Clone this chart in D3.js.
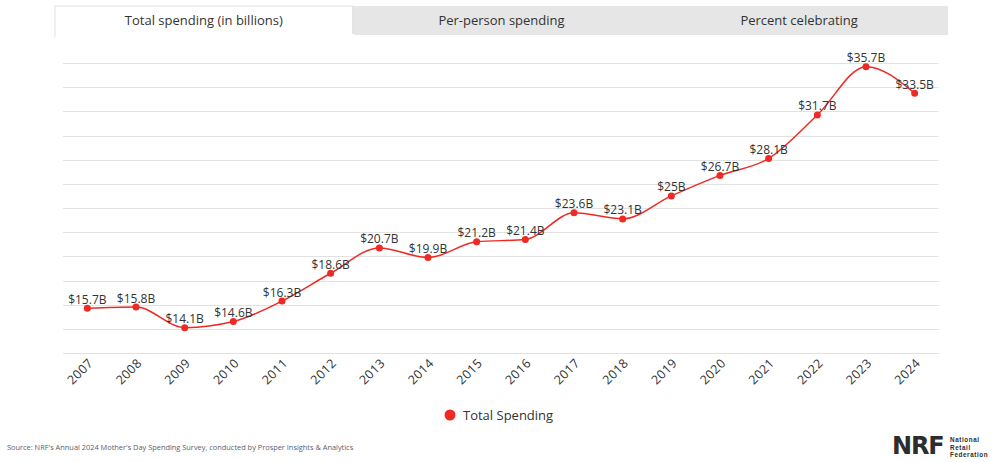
<!DOCTYPE html>
<html><head><meta charset="utf-8">
<script src="https://cdn.jsdelivr.net/npm/d3@7/dist/d3.min.js"></script>
<style>
html,body{margin:0;padding:0;background:#fff;}
svg{display:block;font-family:"Open Sans",sans-serif;}
</style></head>
<body><svg id="c" width="1000" height="462"></svg>
<script>
const years = ["2007","2008","2009","2010","2011","2012","2013","2014","2015","2016","2017","2018","2019","2020","2021","2022","2023","2024"];
const totalSpending = [15.7,15.8,14.1,14.6,16.3,18.6,20.7,19.9,21.2,21.4,23.6,23.1,25,26.7,28.1,31.7,35.7,33.5];
const pointLabels = ["$15.7B","$15.8B","$14.1B","$14.6B","$16.3B","$18.6B","$20.7B","$19.9B","$21.2B","$21.4B","$23.6B","$23.1B","$25B","$26.7B","$28.1B","$31.7B","$35.7B","$33.5B"];
const tabs = ["Total spending (in billions)","Per-person spending","Percent celebrating"];
const yTicks = [12,14,16,18,20,22,24,26,28,30,32,34,36];
const seriesName = "Total Spending";
const sourceText = "Source: NRF's Annual 2024 Mother's Day Spending Survey, conducted by Prosper Insights & Analytics";
const logoWords = ["National","Retail","Federation"];

const svg = d3.select("#c");
const red = "#ee2a24";
const txt = "#333333";

// tabs
const tabX = d3.scaleBand().domain(tabs).range([55, 948]);
const tg = svg.append("g");
tg.append("rect").attr("x",55).attr("y",6).attr("width",893).attr("height",29).attr("fill","#e6e6e6");
tabs.forEach((t,i)=>{
  if(i===0){
    tg.append("rect").attr("x",tabX(t)).attr("y",6).attr("width",tabX.bandwidth()).attr("height",31)
      .attr("fill","#fff").attr("stroke","#e0e0e0").attr("stroke-width",1);
    tg.append("rect").attr("x",tabX(t)+0.5).attr("y",34).attr("width",tabX.bandwidth()+1).attr("height",6).attr("fill","#fff");
  }
  tg.append("text").attr("x",tabX(t)+tabX.bandwidth()/2).attr("y",25).attr("text-anchor","middle")
    .attr("font-size",13).attr("fill",txt).text(t);
});

const x = d3.scalePoint().domain(years).range([63,939]).padding(0.5);
const y = d3.scaleLinear().domain([12,36]).range([353,63]);

// grid
svg.append("g").selectAll("line").data(yTicks).join("line")
  .attr("x1",63).attr("x2",939).attr("y1",d=>Math.round(y(d))+0.5).attr("y2",d=>Math.round(y(d))+0.5)
  .attr("stroke","#e2e2e2").attr("stroke-width",1);

// x axis labels
const xa = svg.append("g").attr("transform","translate(0,353)")
  .call(d3.axisBottom(x).tickSize(0).tickPadding(0));
xa.select(".domain").remove();
xa.selectAll("text").attr("font-size",12.5).attr("fill",txt).attr("font-family","'Open Sans',sans-serif")
  .attr("letter-spacing",0.4)
  .attr("text-anchor","end").attr("dy",null)
  .attr("transform","translate(6,11) rotate(-45)");

// line
const line = d3.line().x((d,i)=>x(years[i])).y(d=>y(d)).curve(d3.curveMonotoneX);
svg.append("path").datum(totalSpending).attr("d",line).attr("fill","none").attr("stroke",red).attr("stroke-width",1.5);

svg.append("g").selectAll("circle").data(totalSpending).join("circle")
  .attr("cx",(d,i)=>x(years[i])).attr("cy",d=>y(d)).attr("r",3.5).attr("fill",red);

svg.append("g").selectAll("text").data(totalSpending).join("text")
  .attr("x",(d,i)=>x(years[i])).attr("y",d=>y(d)-4.5).attr("text-anchor","middle")
  .attr("font-size",12).attr("fill",txt).text((d,i)=>pointLabels[i]);

// legend
svg.append("circle").attr("cx",450).attr("cy",415).attr("r",5.5).attr("fill",red);
svg.append("text").attr("x",463).attr("y",420).attr("font-size",13).attr("fill",txt).text(seriesName);

// source
svg.append("text").attr("x",7).attr("y",450).attr("font-size",7.4).attr("fill","#5a6070").text(sourceText);

// logo
svg.append("text").attr("x",892).attr("y",453.5).attr("font-size",24).attr("font-weight",900)
  .attr("font-family","'DejaVu Sans',sans-serif").attr("fill","#2d2d2d").attr("letter-spacing",-1.2).text("NRF");
logoWords.forEach((w,i)=>{
  svg.append("text").attr("x",950).attr("y",442+i*7.5).attr("font-size",6.3).attr("font-weight",700)
    .attr("font-family","'Liberation Sans',sans-serif").attr("letter-spacing",0.6)
    .attr("fill","#2d2d2d").text(w);
});
</script></body></html>
